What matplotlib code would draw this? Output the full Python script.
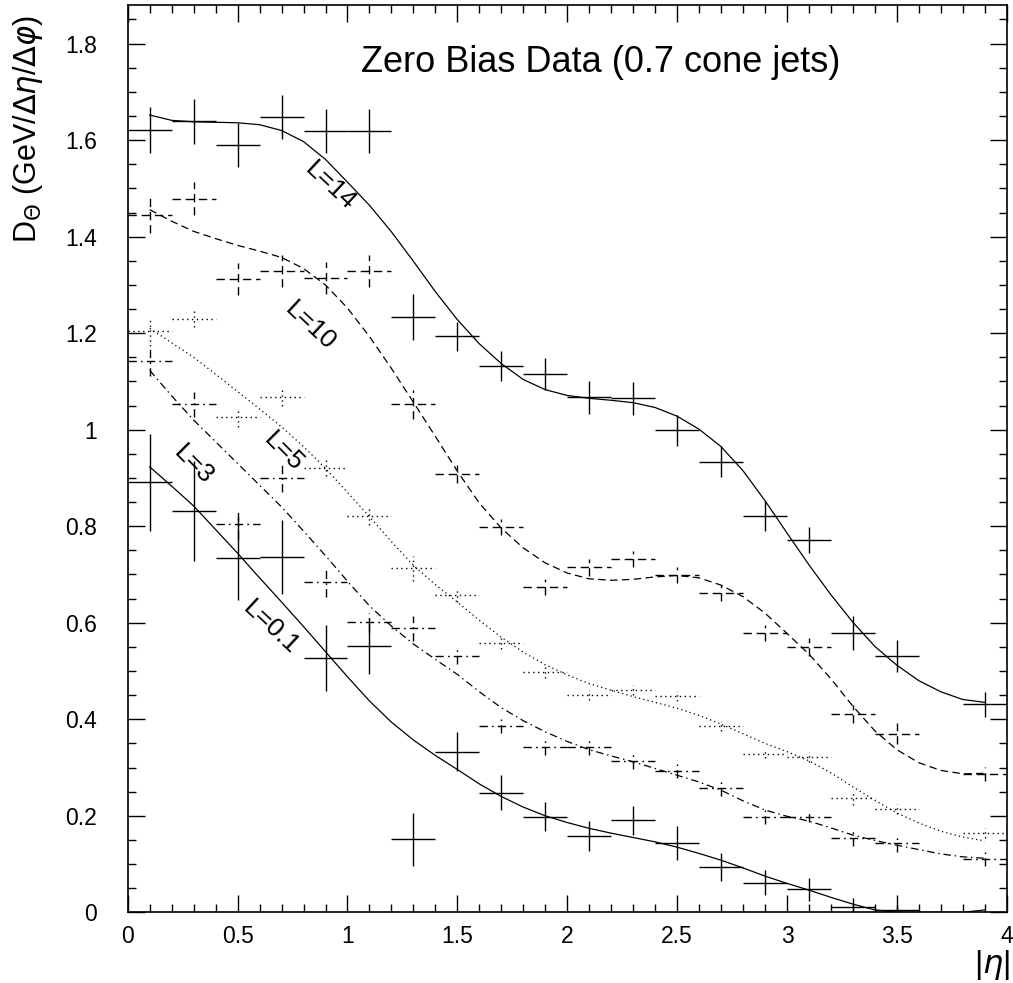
import matplotlib
matplotlib.use("Agg")
import matplotlib.pyplot as plt
from matplotlib.ticker import MultipleLocator, FuncFormatter

# ============================================
# DATA
# ============================================
# bin centres of the measured points (no point at 3.7)
ETA_PTS = [0.1, 0.3, 0.5, 0.7, 0.9, 1.1, 1.3, 1.5, 1.7, 1.9,
           2.1, 2.3, 2.5, 2.7, 2.9, 3.1, 3.3, 3.5, 3.9]
ETA_PTS_L01 = [0.1, 0.3, 0.5, 0.7, 0.9, 1.1, 1.3, 1.5, 1.7, 1.9,
               2.1, 2.3, 2.5, 2.7, 2.9, 3.1, 3.3, 3.5]
BIN_HALF = 0.1

pts_L14 = [1.621, 1.639, 1.590, 1.648, 1.619, 1.619, 1.233, 1.194, 1.132, 1.115,
           1.067, 1.065, 0.999, 0.934, 0.822, 0.771, 0.579, 0.531, 0.431]
err_L14 = [0.047, 0.047, 0.046, 0.045, 0.045, 0.045, 0.048, 0.030, 0.031, 0.033,
           0.034, 0.034, 0.032, 0.032, 0.031, 0.027, 0.036, 0.033, 0.026]

pts_L10 = [1.444, 1.479, 1.312, 1.329, 1.315, 1.329, 1.053, 0.908, 0.798, 0.674,
           0.715, 0.732, 0.699, 0.662, 0.579, 0.550, 0.411, 0.370, 0.287]
err_L10 = [0.036, 0.035, 0.033, 0.033, 0.033, 0.033, 0.030, 0.019, 0.016, 0.017,
           0.018, 0.016, 0.016, 0.017, 0.017, 0.018, 0.019, 0.022, 0.014]

pts_L5 = [1.204, 1.229, 1.026, 1.067, 0.921, 0.821, 0.713, 0.657, 0.558, 0.498,
          0.450, 0.461, 0.448, 0.386, 0.328, 0.322, 0.237, 0.214, 0.164]
err_L5 = [0.030, 0.017, 0.020, 0.017, 0.017, 0.019, 0.026, 0.013, 0.012, 0.012,
          0.011, 0.010, 0.010, 0.010, 0.009, 0.010, 0.014, 0.010, 0.010]

pts_L3 = [1.142, 1.053, 0.804, 0.900, 0.684, 0.601, 0.589, 0.531, 0.386, 0.342,
          0.342, 0.313, 0.293, 0.257, 0.197, 0.197, 0.154, 0.143, 0.110]
err_L3 = [0.031, 0.026, 0.030, 0.030, 0.030, 0.020, 0.026, 0.017, 0.014, 0.016,
          0.015, 0.015, 0.015, 0.015, 0.015, 0.010, 0.017, 0.017, 0.014]

pts_L01 = [0.891, 0.831, 0.734, 0.736, 0.527, 0.552, 0.151, 0.333, 0.248, 0.198,
           0.158, 0.191, 0.143, 0.094, 0.061, 0.048, 0.012, 0.005]
err_L01 = [0.100, 0.104, 0.086, 0.077, 0.069, 0.058, 0.054, 0.040, 0.036, 0.030,
           0.031, 0.030, 0.035, 0.029, 0.026, 0.024, 0.018, 0.010]

# fitted curves, sampled every 0.1 in |eta|
ETA_CURVE = [0.1, 0.2, 0.3, 0.4, 0.5, 0.6, 0.7, 0.8, 0.9, 1.0,
             1.1, 1.2, 1.3, 1.4, 1.5, 1.6, 1.7, 1.8, 1.9, 2.0,
             2.1, 2.2, 2.3, 2.4, 2.5, 2.6, 2.7, 2.8, 2.9, 3.0,
             3.1, 3.2, 3.3, 3.4, 3.5, 3.6, 3.7, 3.8, 3.9]

fit_L14 = [1.652, 1.641, 1.638, 1.637, 1.636, 1.632, 1.620, 1.597, 1.560, 1.513,
           1.465, 1.410, 1.349, 1.286, 1.228, 1.178, 1.137, 1.104, 1.083, 1.071,
           1.065, 1.061, 1.056, 1.046, 1.028, 1.001, 0.965, 0.915, 0.853, 0.786,
           0.720, 0.658, 0.601, 0.551, 0.512, 0.480, 0.457, 0.441, 0.435]
fit_L10 = [1.456, 1.432, 1.411, 1.396, 1.382, 1.370, 1.357, 1.334, 1.300, 1.252,
           1.193, 1.127, 1.057, 0.986, 0.914, 0.848, 0.796, 0.755, 0.724, 0.703,
           0.691, 0.688, 0.690, 0.695, 0.698, 0.693, 0.678, 0.654, 0.620, 0.578,
           0.535, 0.484, 0.427, 0.376, 0.337, 0.310, 0.294, 0.287, 0.288]
fit_L5 = [1.210, 1.180, 1.150, 1.115, 1.079, 1.043, 1.006, 0.965, 0.920, 0.870,
          0.820, 0.768, 0.719, 0.679, 0.643, 0.605, 0.570, 0.539, 0.513, 0.492,
          0.474, 0.460, 0.447, 0.435, 0.423, 0.408, 0.390, 0.370, 0.350, 0.333,
          0.314, 0.289, 0.260, 0.232, 0.206, 0.185, 0.168, 0.156, 0.148]
fit_L3 = [1.123, 1.070, 1.020, 0.975, 0.930, 0.885, 0.840, 0.790, 0.739, 0.686,
          0.635, 0.593, 0.556, 0.524, 0.493, 0.457, 0.424, 0.397, 0.374, 0.354,
          0.337, 0.324, 0.312, 0.298, 0.284, 0.270, 0.253, 0.231, 0.212, 0.199,
          0.189, 0.175, 0.160, 0.149, 0.139, 0.130, 0.121, 0.115, 0.112]
fit_L01 = [0.923, 0.883, 0.842, 0.793, 0.744, 0.693, 0.643, 0.592, 0.540, 0.488,
           0.438, 0.394, 0.357, 0.325, 0.296, 0.266, 0.240, 0.218, 0.200, 0.186,
           0.174, 0.164, 0.155, 0.146, 0.135, 0.122, 0.108, 0.092, 0.075, 0.060,
           0.046, 0.031, 0.017, 0.005, 0.000, 0.000, 0.000, 0.000, 0.005]

# curve labels: text, position, rotation
LABELS = ['L=14', 'L=10', 'L=5', 'L=3', 'L=0.1']
LABEL_X = [0.92, 0.83, 0.71, 0.30, 0.65]
LABEL_Y = [1.505, 1.215, 0.955, 0.927, 0.591]
LABEL_ROT = [-43, -43, -45, -45, -43]

# ============================================
# STYLE
# ============================================
plt.rcParams['font.family'] = ['Liberation Sans', 'DejaVu Sans']
plt.rcParams['mathtext.fontset'] = 'dejavusans'

DASHED = (0, (6, 3.5))
DOTTED = (0, (1, 2.5))
DASHDOT = (0, (6, 3, 1.2, 3))

fig = plt.figure(figsize=(10.13, 9.83), dpi=100)
ax = fig.add_axes([0.1261, 0.0719, 0.8677, 0.923])


def draw_points(x, y, err, ls):
    eb = ax.errorbar(x, y, xerr=BIN_HALF, yerr=err, fmt='none',
                     ecolor='black', elinewidth=1.0, capsize=0)
    for coll in eb.lines[2]:
        coll.set_linestyle(ls)


# measured points
draw_points(ETA_PTS, pts_L14, err_L14, 'solid')
draw_points(ETA_PTS, pts_L10, err_L10, DASHED)
draw_points(ETA_PTS, pts_L5, err_L5, DOTTED)
draw_points(ETA_PTS, pts_L3, err_L3, DASHDOT)
draw_points(ETA_PTS_L01, pts_L01, err_L01, 'solid')

# fits
ax.plot(ETA_CURVE, fit_L14, color='black', lw=0.9, ls='solid')
ax.plot(ETA_CURVE, fit_L10, color='black', lw=0.9, ls=DASHED)
ax.plot(ETA_CURVE, fit_L5, color='black', lw=0.9, ls=DOTTED)
ax.plot(ETA_CURVE, fit_L3, color='black', lw=0.9, ls=DASHDOT)
ax.plot(ETA_CURVE, fit_L01, color='black', lw=0.9, ls='solid')

for txt, lx, ly, rot in zip(LABELS, LABEL_X, LABEL_Y, LABEL_ROT):
    ax.text(lx, ly, txt, rotation=rot, ha='center', va='center',
            fontsize=19, rotation_mode='anchor')

ax.text(2.15, 1.761, 'Zero Bias Data (0.7 cone jets)', ha='center',
        va='center', fontsize=26)

# axes
ax.set_xlim(0, 4)
ax.set_ylim(0, 1.88)
ax.xaxis.set_major_locator(MultipleLocator(0.5))
ax.xaxis.set_minor_locator(MultipleLocator(0.1))
ax.yaxis.set_major_locator(MultipleLocator(0.2))
ax.yaxis.set_minor_locator(MultipleLocator(0.05))
fmt = FuncFormatter(lambda v, p: '%g' % round(v, 2))
ax.xaxis.set_major_formatter(fmt)
ax.yaxis.set_major_formatter(fmt)
ax.tick_params(which='both', direction='in', top=True, right=True, width=1.0)
ax.tick_params(which='major', length=12.5)
ax.tick_params(which='minor', length=6)
ax.tick_params(axis='x', which='major', labelsize=16.5, pad=9)
ax.tick_params(axis='y', which='major', labelsize=16.5, pad=22)
for sp in ax.spines.values():
    sp.set_linewidth(1.2)

fig.text(28 / 1013, 1 - 129 / 983,
         r'D$_{\Theta}$ (GeV/$\Delta\eta$/$\Delta\varphi$)',
         rotation=90, ha='center', va='center', fontsize=22)
fig.text(992 / 1013, 1 - 965 / 983, r'|$\eta$|', ha='center', va='center',
         fontsize=23)

fig.savefig('out.png', dpi=100)
